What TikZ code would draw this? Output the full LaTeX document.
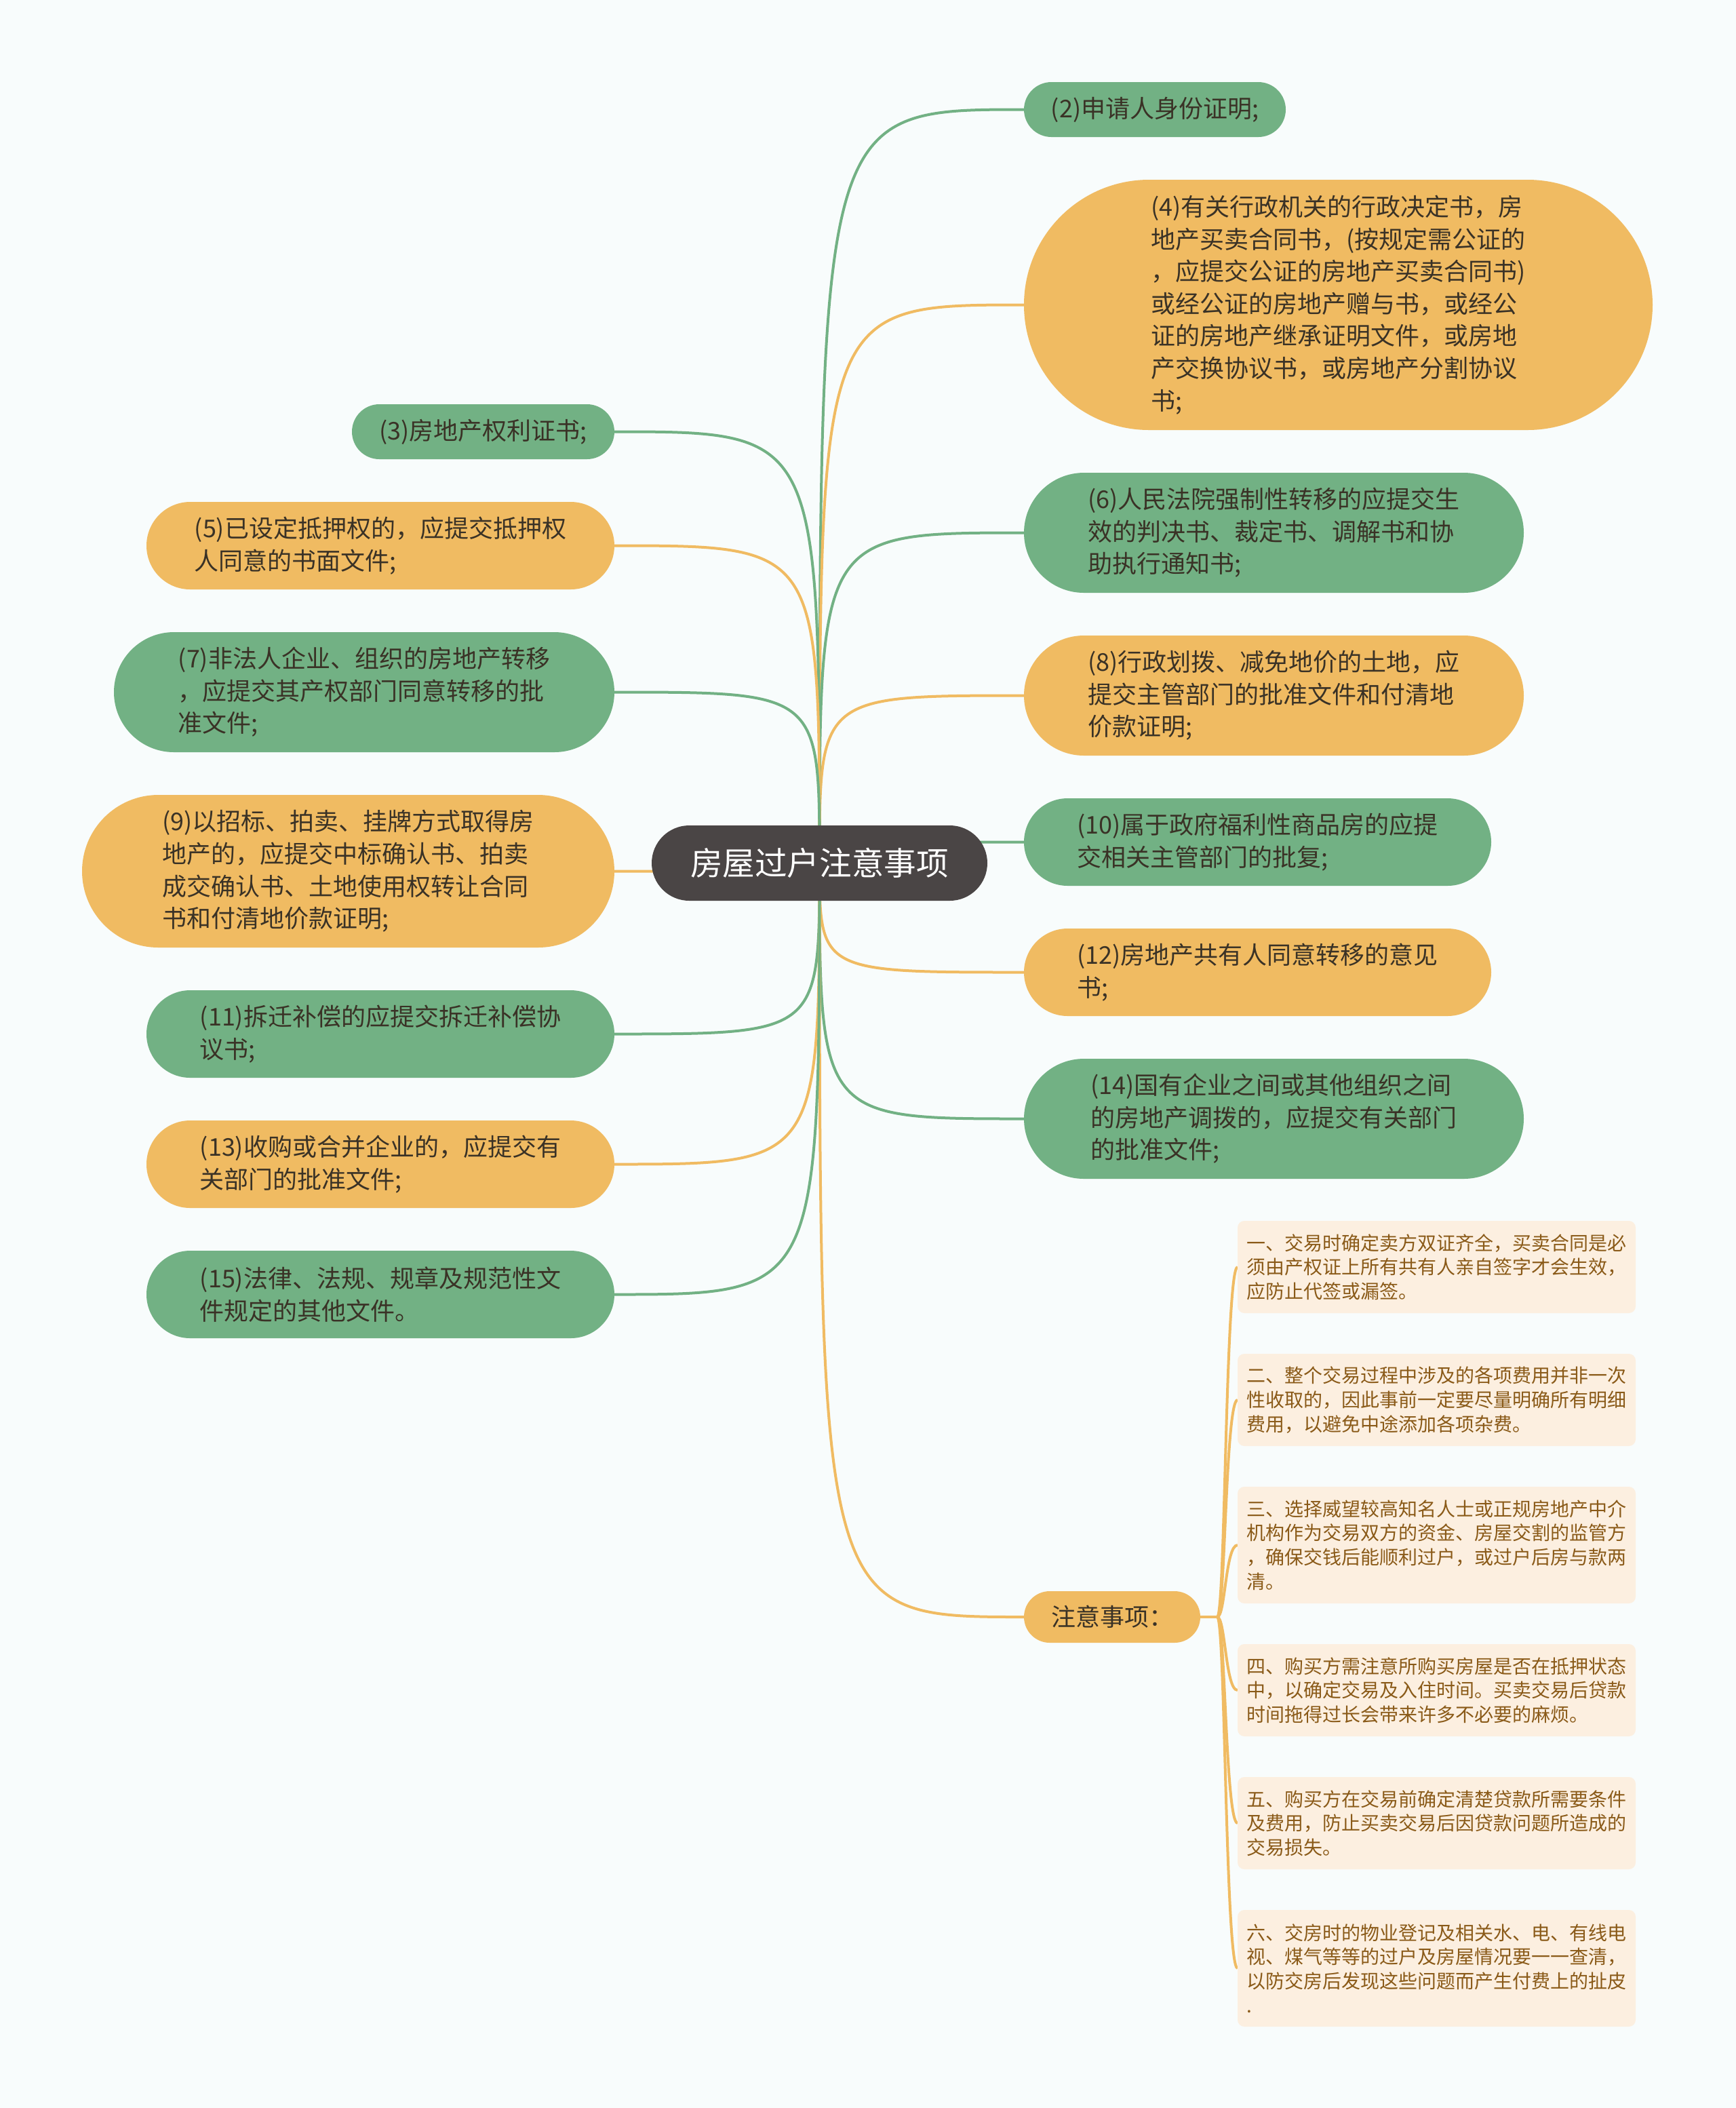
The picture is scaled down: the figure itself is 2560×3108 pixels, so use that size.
\documentclass[tikz,border=0pt]{standalone}
\usepackage{fontspec}
\setmainfont{Noto Sans CJK SC}
\usepackage{xcolor}
\usepackage{tikz}
\usetikzlibrary{positioning,backgrounds,calc}
\definecolor{bgc}{HTML}{F8FCFC}
\definecolor{rootc}{HTML}{4A4545}
\definecolor{leafg}{HTML}{72B184}
\definecolor{leafo}{HTML}{F0BB62}
\definecolor{leaftxt}{HTML}{3A3226}
\definecolor{notefill}{HTML}{FCEFE0}
\definecolor{notetxt}{HTML}{8A5A18}

\begin{document}
\begin{tikzpicture}[x=0.25pt, y=-0.25pt,
  leaf/.style={align=left, inner sep=0pt, outer sep=0pt, text=leaftxt, font=\fontsize{9pt}{11.9pt}\selectfont},
  gbox/.style 2 args={leaf, fill=leafg, minimum width=#1, minimum height=#2, rounded corners=#2/2},
  obox/.style 2 args={leaf, fill=leafo, minimum width=#1, minimum height=#2, rounded corners=#2/2},
  notebox/.style={fill=notefill, text=notetxt, align=left, inner sep=0pt, outer sep=0pt, rounded corners=2.5pt, minimum width=146.75pt, minimum height=#1, font=\fontsize{7pt}{8.9pt}\selectfont},
  gline/.style={draw=leafg, line width=1pt},
  oline/.style={draw=leafo, line width=1pt}]
\begin{scope}[on background layer]
  \fill[bgc] (0,0) rectangle (2560,3108);
\end{scope}
\node[fill=rootc, text=white, font=\fontsize{11.9pt}{14pt}\selectfont, minimum width=123.75pt, minimum height=27.75pt, rounded corners=13.875pt, inner sep=0pt, outer sep=0pt] (root) at (1208.5,1272.5) {房屋过户注意事项};
% right side
\node[gbox={96.5pt}{20.25pt}, anchor=north west] (r2) at (1510,121) {(2)申请人身份证明;};
\node[obox={231.75pt}{92.25pt}, below=15.75pt of r2.south west, anchor=north west] (r4) {(4)有关行政机关的行政决定书，房\\地产买卖合同书，(按规定需公证的\\，应提交公证的房地产买卖合同书)\\或经公证的房地产赠与书，或经公\\证的房地产继承证明文件，或房地\\产交换协议书，或房地产分割协议\\书;};
\node[gbox={184.25pt}{44.25pt}, below=15.75pt of r4.south west, anchor=north west] (r6) {(6)人民法院强制性转移的应提交生\\效的判决书、裁定书、调解书和协\\助执行通知书;};
\node[obox={184.25pt}{44.25pt}, below=15.75pt of r6.south west, anchor=north west] (r8) {(8)行政划拨、减免地价的土地，应\\提交主管部门的批准文件和付清地\\价款证明;};
\node[gbox={172.25pt}{32.25pt}, below=15.75pt of r8.south west, anchor=north west] (r10) {(10)属于政府福利性商品房的应提\\交相关主管部门的批复;};
\node[obox={172.25pt}{32.25pt}, below=15.75pt of r10.south west, anchor=north west] (r12) {(12)房地产共有人同意转移的意见\\书;};
\node[gbox={184.25pt}{44.25pt}, below=15.75pt of r12.south west, anchor=north west] (r14) {(14)国有企业之间或其他组织之间\\的房地产调拨的，应提交有关部门\\的批准文件;};
\node[obox={65pt}{19pt}, anchor=west] (nb) at (1510,2384) {注意事项：};
% left side
\node[gbox={96.75pt}{20.25pt}, anchor=north east] (l3) at (906,596) {(3)房地产权利证书;};
\node[obox={172.5pt}{32.25pt}, below=15.75pt of l3.south east, anchor=north east] (l5) {(5)已设定抵押权的，应提交抵押权\\人同意的书面文件;};
\node[gbox={184.5pt}{44.25pt}, below=15.75pt of l5.south east, anchor=north east] (l7) {(7)非法人企业、组织的房地产转移\\，应提交其产权部门同意转移的批\\准文件;};
\node[obox={196.25pt}{56.25pt}, below=15.75pt of l7.south east, anchor=north east] (l9) {(9)以招标、拍卖、挂牌方式取得房\\地产的，应提交中标确认书、拍卖\\成交确认书、土地使用权转让合同\\书和付清地价款证明;};
\node[gbox={172.5pt}{32.25pt}, below=15.75pt of l9.south east, anchor=north east] (l11) {(11)拆迁补偿的应提交拆迁补偿协\\议书;};
\node[obox={172.5pt}{32.25pt}, below=15.75pt of l11.south east, anchor=north east] (l13) {(13)收购或合并企业的，应提交有\\关部门的批准文件;};
\node[gbox={172.5pt}{32.25pt}, below=15.75pt of l13.south east, anchor=north east] (l15) {(15)法律、法规、规章及规范性文\\件规定的其他文件。};
% notes
\node[notebox=34pt, anchor=north west] (n1) at (1825,1800) {一、交易时确定卖方双证齐全，买卖合同是必\\须由产权证上所有共有人亲自签字才会生效，\\应防止代签或漏签。};
\node[notebox=34pt, below=15pt of n1.south west, anchor=north west] (n2) {二、整个交易过程中涉及的各项费用并非一次\\性收取的，因此事前一定要尽量明确所有明细\\费用，以避免中途添加各项杂费。};
\node[notebox=43pt, below=15pt of n2.south west, anchor=north west] (n3) {三、选择威望较高知名人士或正规房地产中介\\机构作为交易双方的资金、房屋交割的监管方\\，确保交钱后能顺利过户，或过户后房与款两\\清。};
\node[notebox=34pt, below=15pt of n3.south west, anchor=north west] (n4) {四、购买方需注意所购买房屋是否在抵押状态\\中，以确定交易及入住时间。买卖交易后贷款\\时间拖得过长会带来许多不必要的麻烦。};
\node[notebox=34pt, below=15pt of n4.south west, anchor=north west] (n5) {五、购买方在交易前确定清楚贷款所需要条件\\及费用，防止买卖交易后因贷款问题所造成的\\交易损失。};
\node[notebox=43pt, below=15pt of n5.south west, anchor=north west] (n6) {六、交房时的物业登记及相关水、电、有线电\\视、煤气等等的过户及房屋情况要一一查清，\\以防交房后发现这些问题而产生付费上的扯皮\\.};
\coordinate (nj) at ($(nb.east)+(25,0)$);
\begin{scope}[on background layer]
  \draw[gline] (root.center) .. controls (root.center |- r2.west) .. (r2.west);
  \draw[oline] (root.center) .. controls (root.center |- r4.west) .. (r4.west);
  \draw[gline] (root.center) .. controls (root.center |- r6.west) .. (r6.west);
  \draw[oline] (root.center) .. controls (root.center |- r8.west) .. (r8.west);
  \draw[gline] (root.center) .. controls (root.center |- r10.west) .. (r10.west);
  \draw[oline] (root.center) .. controls (root.center |- r12.west) .. (r12.west);
  \draw[gline] (root.center) .. controls (root.center |- r14.west) .. (r14.west);
  \draw[oline] (root.center) .. controls (root.center |- nb.west) .. (nb.west);
  \draw[gline] (root.center) .. controls (root.center |- l3.east) .. (l3.east);
  \draw[oline] (root.center) .. controls (root.center |- l5.east) .. (l5.east);
  \draw[gline] (root.center) .. controls (root.center |- l7.east) .. (l7.east);
  \draw[oline] (root.center) .. controls (root.center |- l9.east) .. (l9.east);
  \draw[gline] (root.center) .. controls (root.center |- l11.east) .. (l11.east);
  \draw[oline] (root.center) .. controls (root.center |- l13.east) .. (l13.east);
  \draw[gline] (root.center) .. controls (root.center |- l15.east) .. (l15.east);
  \draw[oline] (nb.east) -- (nj);
  \draw[oline] (nj) .. controls ($(nj)+(12,0)$) and ($(nj |- n1.west)+(12,0)$) .. (n1.west);
  \draw[oline] (nj) .. controls ($(nj)+(12,0)$) and ($(nj |- n2.west)+(12,0)$) .. (n2.west);
  \draw[oline] (nj) .. controls ($(nj)+(12,0)$) and ($(nj |- n3.west)+(12,0)$) .. (n3.west);
  \draw[oline] (nj) .. controls ($(nj)+(12,0)$) and ($(nj |- n4.west)+(12,0)$) .. (n4.west);
  \draw[oline] (nj) .. controls ($(nj)+(12,0)$) and ($(nj |- n5.west)+(12,0)$) .. (n5.west);
  \draw[oline] (nj) .. controls ($(nj)+(12,0)$) and ($(nj |- n6.west)+(12,0)$) .. (n6.west);
\end{scope}
\end{tikzpicture}
\end{document}
